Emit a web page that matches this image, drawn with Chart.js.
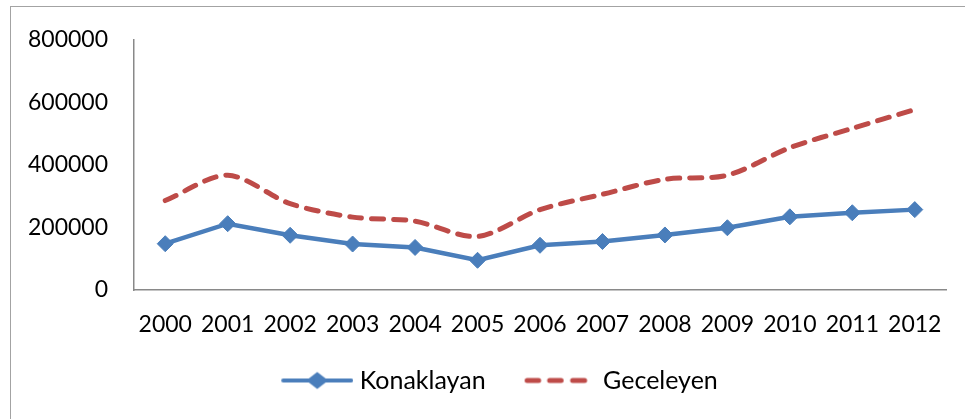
<!DOCTYPE html>
<html><head><meta charset="utf-8">
<script src="https://cdn.jsdelivr.net/npm/chart.js@4"></script>
<style>
html,body{margin:0;padding:0;background:#fff;}
#wrap{position:relative;width:965px;height:419px;overflow:hidden;background:#fff;}
#frame{position:absolute;left:10px;top:6px;width:1200px;height:800px;border:1.5px solid #a3a3a3;box-sizing:border-box;}
#c{position:absolute;left:0;top:0;}
</style></head><body>
<div id="wrap"><div id="frame"></div><canvas id="c" width="965" height="419"></canvas></div>
<script>
const years = ['2000','2001','2002','2003','2004','2005','2006','2007','2008','2009','2010','2011','2012'];
const konaklayan = [148000, 212000, 175000, 147000, 136000, 95000, 143000, 155000, 176000, 199000, 234000, 247000, 257000];
const geceleyen = [286000, 367000, 276000, 233000, 220000, 171000, 257000, 306000, 354000, 367000, 455000, 517000, 577000];
const yTicks = [0, 200000, 400000, 600000, 800000];
const seriesNames = ['Konaklayan', 'Geceleyen'];

const BLUE = '#4a7ebb';
const RED = '#be4b48';

function blueSample() {
  const c = document.createElement('canvas');
  c.width = 107; c.height = 20;
  const x = c.getContext('2d');
  x.strokeStyle = BLUE; x.lineWidth = 4; x.lineCap = 'round';
  x.beginPath(); x.moveTo(37, 10); x.lineTo(105, 10); x.stroke();
  x.fillStyle = BLUE;
  x.beginPath(); x.moveTo(60, 10); x.lineTo(71, 1.5); x.lineTo(82, 10); x.lineTo(71, 18.5); x.closePath(); x.fill();
  return c;
}
function redSample() {
  const c = document.createElement('canvas');
  c.width = 107; c.height = 8;
  const x = c.getContext('2d');
  x.strokeStyle = RED; x.lineWidth = 5; x.lineCap = 'round';
  [[37.5,49],[60,71.5],[83,95]].forEach(s => { x.beginPath(); x.moveTo(s[0], 4); x.lineTo(s[1], 4); x.stroke(); });
  return c;
}
const samples = [blueSample(), redSample()];

const FONT = {family: 'Lato, "Open Sans", sans-serif', size: 23};
const LEGEND_FONT = {family: 'Lato, "Open Sans", sans-serif', size: 25};

const legendShift = {
  id: 'legendShift',
  afterLayout(chart) {
    const lg = chart.legend;
    if (lg) { lg.left += 12; lg.right += 12; }
  }
};

new Chart(document.getElementById('c'), {
  type: 'line',
  data: {
    labels: years,
    datasets: [
      {label: seriesNames[0], data: konaklayan, borderColor: BLUE, backgroundColor: BLUE, borderWidth: 4.5,
       pointStyle: 'rectRot', pointRadius: 8, pointBorderWidth: 1, pointBackgroundColor: BLUE, pointBorderColor: BLUE,
       tension: 0, fill: false},
      {label: seriesNames[1], data: geceleyen, borderColor: RED, backgroundColor: RED, borderWidth: 5,
       borderDash: [12, 10], borderCapStyle: 'round', pointRadius: 0, tension: 0.3, fill: false}
    ]
  },
  plugins: [legendShift],
  options: {
    responsive: false, animation: false, devicePixelRatio: 1,
    layout: {padding: {left: 0, right: 19, top: 36, bottom: 16}},
    plugins: {
      tooltip: {enabled: false},
      legend: {
        position: 'bottom', align: 'center',
        labels: {
          usePointStyle: true, pointStyleWidth: 95, padding: 10, color: '#000', font: LEGEND_FONT,
          generateLabels: (chart) => {
            const items = Chart.defaults.plugins.legend.labels.generateLabels(chart);
            items.forEach((it, i) => { it.pointStyle = samples[i]; it.lineWidth = 0; });
            return items;
          }
        }
      }
    },
    scales: {
      x: {
        offset: true,
        grid: {display: false, drawTicks: false, offset: true},
        border: {display: true, color: '#898989', width: 1.5},
        ticks: {color: '#000', font: FONT, padding: 21, maxRotation: 0, autoSkip: false},
        afterFit: s => { s.height = 68; }
      },
      y: {
        min: yTicks[0], max: yTicks[yTicks.length - 1],
        grid: {display: false, drawTicks: false},
        border: {display: true, color: '#898989', width: 1.5},
        afterBuildTicks: s => { s.ticks = yTicks.map(v => ({value: v})); },
        ticks: {color: '#000', font: FONT, padding: 26, callback: v => String(v)},
        afterFit: s => { s.width = 134; }
      }
    }
  }
});
</script>
</body></html>
